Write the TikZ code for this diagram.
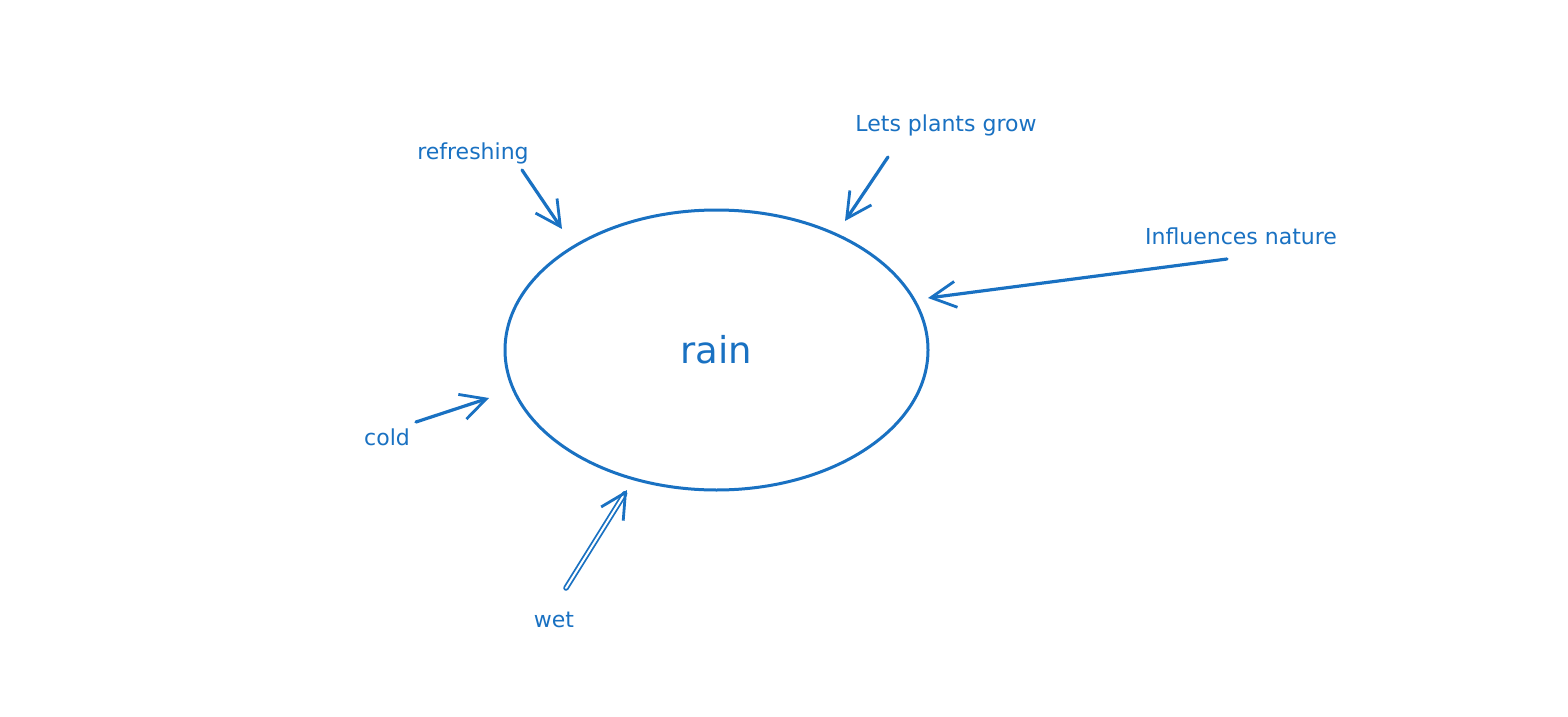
\documentclass[tikz,border=0pt]{standalone}
\usepackage{fontspec}
\setmainfont{DejaVu Sans}
\usetikzlibrary{arrows.meta,shapes.geometric}
\definecolor{exblue}{HTML}{1971C2}
\begin{document}
\begin{tikzpicture}[x=1pt,y=-1pt,
  lbl/.style={text=exblue,font=\fontsize{22}{26}\selectfont,inner sep=0pt},
  conn/.style={draw=exblue,line width=3.2pt,line cap=round,
    -{Straight Barb[length=25pt,width=26pt,line width=2.8pt]}},
  bubble/.style={ellipse,draw=exblue,line width=3pt,minimum width=423pt,minimum height=280pt,inner sep=0pt}]
\useasboundingbox[fill=white] (0,0) rectangle (1568,717);
\node[bubble] (rain) at (716.5,350) {};
\node[text=exblue,font=\fontsize{37}{40}\selectfont] (rainlbl) at (716,350) {rain};
\node[lbl] (refr) at (473,153) {refreshing};
\node[lbl] (grow) at (946,125) {Lets plants grow};
\node[lbl] (infl) at (1241,236) {Influences nature};
\node[lbl] (cold) at (387,437) {cold};
\node[lbl] (wet) at (554,620) {wet};
\coordinate (refrS) at (522,170); \coordinate (refrE) at (562,229);
\coordinate (growS) at (888,157); \coordinate (growE) at (845,221);
\coordinate (inflS) at (1227,259); \coordinate (inflE) at (928,298);
\coordinate (coldS) at (416,422); \coordinate (coldE) at (489,398);
\coordinate (wetS) at (566,588); \coordinate (wetE) at (627,490);
\draw[conn] (refrS) -- (refrE);
\draw[conn] (growS) -- (growE);
\draw[conn] (inflS) -- (inflE);
\draw[conn] (coldS) -- (coldE);
\draw[conn,double=white,double distance=2pt,line width=1.8pt] (wetS) -- (wetE);
\end{tikzpicture}
\end{document}
